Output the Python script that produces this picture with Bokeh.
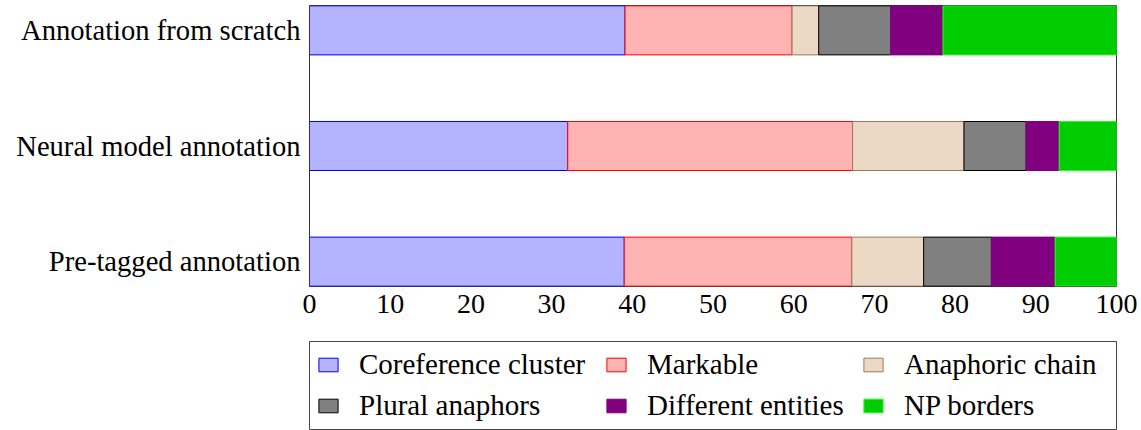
from bokeh.plotting import figure
from bokeh.layouts import column
from bokeh.models import ColumnDataSource, Range1d, FixedTicker, Legend
from bokeh.embed import file_html
from bokeh.resources import INLINE

# Share of each error type per annotation setting (percent)
settings = ["Pre-tagged annotation", "Neural model annotation", "Annotation from scratch"]
coreference_cluster = [39.0, 32.0, 39.1]
markable = [28.2, 35.3, 20.7]
anaphoric_chain = [8.9, 13.8, 3.3]
plural_anaphors = [8.4, 7.7, 8.9]
different_entities = [7.9, 4.1, 6.5]
np_borders = [7.6, 7.1, 21.5]

series_names = ["Coreference cluster", "Markable", "Anaphoric chain",
                "Plural anaphors", "Different entities", "NP borders"]
x_ticks = [0, 10, 20, 30, 40, 50, 60, 70, 80, 90, 100]

fills = ["#B3B3FF", "#FFB3B3", "#EBD9C6", "#808080", "#800080", "#00CC00"]
edges = ["#0000FF", "#FF0000", "#9C7A58", "#000000", "#800080", "#22FF22"]

keys = ["cc", "mk", "ac", "pa", "de", "np"]
source = ColumnDataSource(dict(
    y=list(range(len(settings))),
    cc=coreference_cluster, mk=markable, ac=anaphoric_chain,
    pa=plural_anaphors, de=different_entities, np=np_borders,
))

FONT = "Liberation Serif"

# ---- stacked bar chart ----
p = figure(width=1141, height=330, output_backend="svg", toolbar_location=None,
           x_range=Range1d(0, 100), y_range=Range1d(-0.215, 2.215),
           min_border_left=302, min_border_right=25, min_border_top=5,
           min_border_bottom=44)

p.hbar_stack(keys, y="y", height=0.424, source=source,
             fill_color=fills, line_color=edges, line_width=1)

p.xgrid.visible = False
p.ygrid.visible = False
p.outline_line_color = "#333333"
p.outline_line_width = 1

p.xaxis.ticker = FixedTicker(ticks=x_ticks)
p.yaxis.ticker = FixedTicker(ticks=list(range(len(settings))))
p.yaxis.major_label_overrides = {i: s for i, s in enumerate(settings)}
for ax in (p.xaxis[0], p.yaxis[0]):
    ax.axis_line_color = None
    ax.major_tick_line_color = None
    ax.minor_tick_line_color = None
    ax.major_tick_out = 0
    ax.major_tick_in = 0
    ax.minor_tick_out = 0
    ax.minor_tick_in = 0
    ax.axis_label_standoff = 0
    ax.major_label_text_font = FONT
    ax.major_label_text_color = "black"
p.xaxis.major_label_text_font_size = "28px"
p.yaxis.major_label_text_font_size = "28.6px"
p.xaxis.major_label_standoff = 8
p.yaxis.major_label_standoff = 9

# ---- legend panel: framed box with three columns of entries ----
leg = figure(width=1141, height=100, output_backend="svg", toolbar_location=None,
             x_range=Range1d(0, 1), y_range=Range1d(0, 1),
             x_axis_type=None, y_axis_type=None,
             min_border_left=309, min_border_right=19, min_border_top=11,
             min_border_bottom=0)
leg.xgrid.visible = False
leg.ygrid.visible = False
leg.outline_line_color = "#444444"
leg.outline_line_width = 1

# swatch renderers carry no drawable data; they only provide legend glyphs
nan = float("nan")
swatches = [leg.hbar(y=[nan], right=[nan], height=0.5, fill_color=f, line_color=e, line_width=1)
            for f, e in zip(fills, edges)]

col_x = [7, 295, 552]
for c, x in enumerate(col_x):
    items = [(series_names[c], [swatches[c]]), (series_names[c + 3], [swatches[c + 3]])]
    lg = Legend(items=items, orientation="vertical",
                label_text_font=FONT, label_text_font_size="29px",
                label_text_color="black", label_height=34,
                glyph_width=24, glyph_height=17, label_standoff=19,
                spacing=7, padding=0, margin=0,
                border_line_color=None, background_fill_color=None,
                location=(x, 8))
    leg.add_layout(lg, "center")

open("out.html", "w").write(file_html(column(p, leg, spacing=0), INLINE))
